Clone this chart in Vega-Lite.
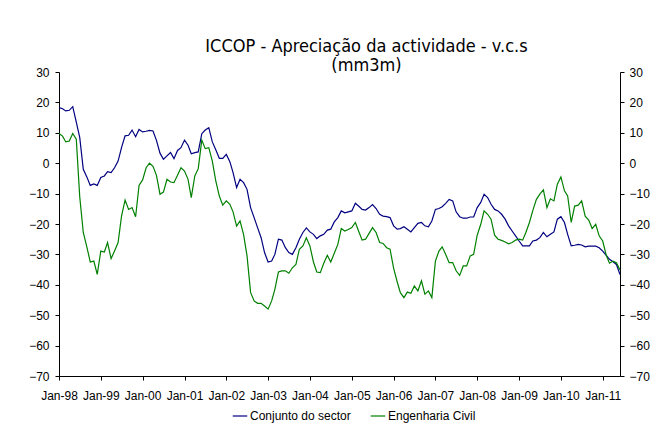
{
"$schema": "https://vega.github.io/schema/vega-lite/v6.json",
"width": 561, "height": 304,
"autosize": "none",
"padding": {"left": 59, "top": 72, "right": 38, "bottom": 48},
"background": "white",
"title": {"text": ["ICCOP - Apreciação da actividade - v.c.s", "(mm3m)"], "font": "DejaVu Sans Condensed, DejaVu Sans", "fontSize": 18, "fontWeight": "normal", "color": "black", "anchor": "middle", "frame": "group", "dx": 27, "baseline": "bottom", "offset": -27, "lineHeight": 19.5},
"config": {"view": {"stroke": null}, "axis": {"grid": false, "domainColor": "black", "tickColor": "black", "labelColor": "black", "labelFont": "Liberation Sans", "labelFontSize": 12, "tickSize": 4, "title": null}},
"data": {"values": [
{"d":"1998-01-01","c":18.3,"e":9.8},{"d":"1998-02-01","c":17.9,"e":8.9},{"d":"1998-03-01","c":17.2,"e":7},{"d":"1998-04-01","c":17.4,"e":7.3},{"d":"1998-05-01","c":18.6,"e":9.8},{"d":"1998-06-01","c":13.5,"e":7.9},{"d":"1998-07-01","c":8.5,"e":-11},{"d":"1998-08-01","c":-2,"e":-22.8},{"d":"1998-09-01","c":-4.5,"e":-27.5},{"d":"1998-10-01","c":-7.3,"e":-32.5},{"d":"1998-11-01","c":-6.8,"e":-32.2},{"d":"1998-12-01","c":-7.3,"e":-36.6},
{"d":"1999-01-01","c":-4.7,"e":-28.9},{"d":"1999-02-01","c":-4.2,"e":-29.2},{"d":"1999-03-01","c":-2.8,"e":-26.1},{"d":"1999-04-01","c":-3.1,"e":-31.4},{"d":"1999-05-01","c":-1.5,"e":-28.9},{"d":"1999-06-01","c":0.7,"e":-26.1},{"d":"1999-07-01","c":5.1,"e":-17.4},{"d":"1999-08-01","c":9,"e":-12.1},{"d":"1999-09-01","c":9.2,"e":-15.2},{"d":"1999-10-01","c":10.9,"e":-14.6},{"d":"1999-11-01","c":8.7,"e":-17.6},{"d":"1999-12-01","c":11.1,"e":-7.3},
{"d":"2000-01-01","c":10.3,"e":-5.5},{"d":"2000-02-01","c":10.5,"e":-1.5},{"d":"2000-03-01","c":10.8,"e":0},{"d":"2000-04-01","c":10.6,"e":-1},{"d":"2000-05-01","c":7.5,"e":-4},{"d":"2000-06-01","c":3.3,"e":-10.2},{"d":"2000-07-01","c":1.3,"e":-9.5},{"d":"2000-08-01","c":2.4,"e":-5.3},{"d":"2000-09-01","c":3.5,"e":-6.2},{"d":"2000-10-01","c":1.5,"e":-6.4},{"d":"2000-11-01","c":4.2,"e":-4},{"d":"2000-12-01","c":5.1,"e":-1.5},
{"d":"2001-01-01","c":7.6,"e":-2.6},{"d":"2001-02-01","c":5.9,"e":-5.3},{"d":"2001-03-01","c":3.1,"e":-11.3},{"d":"2001-04-01","c":3.5,"e":-4.2},{"d":"2001-05-01","c":3.7,"e":-1.8},{"d":"2001-06-01","c":9.7,"e":7.6},{"d":"2001-07-01","c":10.9,"e":4.8},{"d":"2001-08-01","c":11.7,"e":5.1},{"d":"2001-09-01","c":7,"e":0.7},{"d":"2001-10-01","c":4.4,"e":-5.8},{"d":"2001-11-01","c":1.6,"e":-10.8},{"d":"2001-12-01","c":1.6,"e":-13.8},
{"d":"2002-01-01","c":2.9,"e":-12.4},{"d":"2002-02-01","c":0.5,"e":-13.5},{"d":"2002-03-01","c":-3.1,"e":-16},{"d":"2002-04-01","c":-8,"e":-20.7},{"d":"2002-05-01","c":-5.3,"e":-19},{"d":"2002-06-01","c":-6.4,"e":-23.5},{"d":"2002-07-01","c":-8.6,"e":-30.5},{"d":"2002-08-01","c":-14.6,"e":-42.5},{"d":"2002-09-01","c":-17.9,"e":-45.3},{"d":"2002-10-01","c":-21.2,"e":-46.1},{"d":"2002-11-01","c":-24.5,"e":-46.1},{"d":"2002-12-01","c":-29.4,"e":-47},
{"d":"2003-01-01","c":-32.5,"e":-48},{"d":"2003-02-01","c":-32.2,"e":-45.3},{"d":"2003-03-01","c":-30,"e":-41.5},{"d":"2003-04-01","c":-25,"e":-35.8},{"d":"2003-05-01","c":-25.3,"e":-35.4},{"d":"2003-06-01","c":-27.8,"e":-35.4},{"d":"2003-07-01","c":-29.4,"e":-36.2},{"d":"2003-08-01","c":-30,"e":-34.4},{"d":"2003-09-01","c":-27.8,"e":-33.3},{"d":"2003-10-01","c":-25,"e":-28.3},{"d":"2003-11-01","c":-22.8,"e":-27.2},{"d":"2003-12-01","c":-21.3,"e":-24.5},
{"d":"2004-01-01","c":-22.6,"e":-27.2},{"d":"2004-02-01","c":-23.4,"e":-32.5},{"d":"2004-03-01","c":-24.8,"e":-35.8},{"d":"2004-04-01","c":-23.9,"e":-36},{"d":"2004-05-01","c":-23.4,"e":-32.9},{"d":"2004-06-01","c":-22,"e":-30.3},{"d":"2004-07-01","c":-21.7,"e":-32.5},{"d":"2004-08-01","c":-19.3,"e":-29.6},{"d":"2004-09-01","c":-17.9,"e":-26.7},{"d":"2004-10-01","c":-15.7,"e":-21.5},{"d":"2004-11-01","c":-16.3,"e":-22.3},{"d":"2004-12-01","c":-16,"e":-21.8},
{"d":"2005-01-01","c":-15.7,"e":-21.2},{"d":"2005-02-01","c":-13.2,"e":-19.5},{"d":"2005-03-01","c":-14.1,"e":-22.3},{"d":"2005-04-01","c":-15.2,"e":-25.3},{"d":"2005-05-01","c":-15.4,"e":-25},{"d":"2005-06-01","c":-14.6,"e":-23.1},{"d":"2005-07-01","c":-13.6,"e":-21.2},{"d":"2005-08-01","c":-14.9,"e":-22.8},{"d":"2005-09-01","c":-16.8,"e":-26.1},{"d":"2005-10-01","c":-17.4,"e":-26.4},{"d":"2005-11-01","c":-17.6,"e":-27.8},{"d":"2005-12-01","c":-17.9,"e":-28.3},
{"d":"2006-01-01","c":-20.6,"e":-34.5},{"d":"2006-02-01","c":-21.7,"e":-39},{"d":"2006-03-01","c":-21.5,"e":-42.6},{"d":"2006-04-01","c":-20.9,"e":-44.2},{"d":"2006-05-01","c":-21.7,"e":-42.4},{"d":"2006-06-01","c":-22.6,"e":-42.8},{"d":"2006-07-01","c":-21.2,"e":-40.4},{"d":"2006-08-01","c":-19.8,"e":-42},{"d":"2006-09-01","c":-19.5,"e":-38.7},{"d":"2006-10-01","c":-20.6,"e":-43.1},{"d":"2006-11-01","c":-20.9,"e":-42},{"d":"2006-12-01","c":-19,"e":-44.2},
{"d":"2007-01-01","c":-15.2,"e":-32.2},{"d":"2007-02-01","c":-14.9,"e":-28.9},{"d":"2007-03-01","c":-14.3,"e":-27.5},{"d":"2007-04-01","c":-13.2,"e":-30},{"d":"2007-05-01","c":-11.9,"e":-32.7},{"d":"2007-06-01","c":-12.4,"e":-32.7},{"d":"2007-07-01","c":-16,"e":-35.4},{"d":"2007-08-01","c":-17.6,"e":-36.9},{"d":"2007-09-01","c":-18.1,"e":-33.8},{"d":"2007-10-01","c":-18.1,"e":-33.8},{"d":"2007-11-01","c":-17.7,"e":-30.5},{"d":"2007-12-01","c":-17.7,"e":-30},
{"d":"2008-01-01","c":-14.6,"e":-23.7},{"d":"2008-02-01","c":-12.9,"e":-20.1},{"d":"2008-03-01","c":-10.2,"e":-15.7},{"d":"2008-04-01","c":-11.3,"e":-16.8},{"d":"2008-05-01","c":-13.5,"e":-18.4},{"d":"2008-06-01","c":-15.2,"e":-23.7},{"d":"2008-07-01","c":-15.7,"e":-25},{"d":"2008-08-01","c":-16.8,"e":-25.4},{"d":"2008-09-01","c":-18.4,"e":-25.9},{"d":"2008-10-01","c":-20.6,"e":-26.5},{"d":"2008-11-01","c":-22.3,"e":-26.1},{"d":"2008-12-01","c":-23.9,"e":-25.3},
{"d":"2009-01-01","c":-25.6,"e":-25},{"d":"2009-02-01","c":-27.2,"e":-25.3},{"d":"2009-03-01","c":-27.2,"e":-22.8},{"d":"2009-04-01","c":-27.2,"e":-19.5},{"d":"2009-05-01","c":-25.6,"e":-15.5},{"d":"2009-06-01","c":-25.3,"e":-11.9},{"d":"2009-07-01","c":-24.5,"e":-10.2},{"d":"2009-08-01","c":-22.8,"e":-8.8},{"d":"2009-09-01","c":-24.2,"e":-14.6},{"d":"2009-10-01","c":-23.4,"e":-11.7},{"d":"2009-11-01","c":-22.6,"e":-12.4},{"d":"2009-12-01","c":-18.4,"e":-6.9},
{"d":"2010-01-01","c":-17.6,"e":-4.5},{"d":"2010-02-01","c":-19.5,"e":-9.1},{"d":"2010-03-01","c":-23.4,"e":-10.8},{"d":"2010-04-01","c":-27.2,"e":-19.5},{"d":"2010-05-01","c":-27,"e":-14.1},{"d":"2010-06-01","c":-26.7,"e":-13.8},{"d":"2010-07-01","c":-26.9,"e":-12.4},{"d":"2010-08-01","c":-27.5,"e":-17.4},{"d":"2010-09-01","c":-27.3,"e":-18.7},{"d":"2010-10-01","c":-27.3,"e":-21.5},{"d":"2010-11-01","c":-27.3,"e":-20.1},{"d":"2010-12-01","c":-27.8,"e":-23.9},
{"d":"2011-01-01","c":-28.9,"e":-25.6},{"d":"2011-02-01","c":-30.3,"e":-30.3},{"d":"2011-03-01","c":-31.6,"e":-32.9},{"d":"2011-04-01","c":-32.4,"e":-32.2},{"d":"2011-05-01","c":-33.3,"e":-32.7},{"d":"2011-06-01","c":-36.6,"e":-35.1}
]},
"transform": [{"fold": ["c", "e"], "as": ["s", "v"]}],
"encoding": {
  "x": {"field": "d", "type": "temporal",
        "scale": {"type": "utc", "domain": [{"year": 1998, "month": 1, "date": 1, "utc": true}, {"year": 2011, "month": 6, "date": 1, "utc": true}]},
        "axis": {"format": "%b-%y", "tickCount": {"interval": "year", "step": 1}, "labelPadding": 10, "labelFlush": false, "labelOverlap": false}},
  "color": {"field": "s", "type": "nominal",
            "scale": {"domain": ["c", "e"], "range": ["#000080", "#008000"]},
            "legend": {"title": null, "orient": "none", "legendX": 173, "legendY": 336, "direction": "horizontal", "symbolType": "stroke", "symbolSize": 210, "symbolStrokeWidth": 1.2, "labelFont": "Liberation Sans", "labelFontSize": 12, "labelColor": "black", "labelOffset": 2, "columnPadding": 17,
                       "labelExpr": "datum.label == 'c' ? 'Conjunto do sector' : 'Engenharia Civil'"}}
},
"layer": [
  {"transform": [{"filter": "datum.s == 'c'"}],
   "mark": {"type": "line", "strokeWidth": 1.2},
   "encoding": {"y": {"field": "v", "type": "quantitative", "scale": {"domain": [-70, 30], "nice": false},
                      "axis": {"orient": "left", "values": [-70, -60, -50, -40, -30, -20, -10, 0, 10, 20, 30], "labelPadding": 6}}}},
  {"transform": [{"filter": "datum.s == 'e'"}],
   "mark": {"type": "line", "strokeWidth": 1.2},
   "encoding": {"y": {"field": "v", "type": "quantitative", "scale": {"domain": [-70, 30], "nice": false},
                      "axis": {"orient": "right", "values": [-70, -60, -50, -40, -30, -20, -10, 0, 10, 20, 30], "labelPadding": 5}}}}
],
"resolve": {"scale": {"y": "independent"}}
}
